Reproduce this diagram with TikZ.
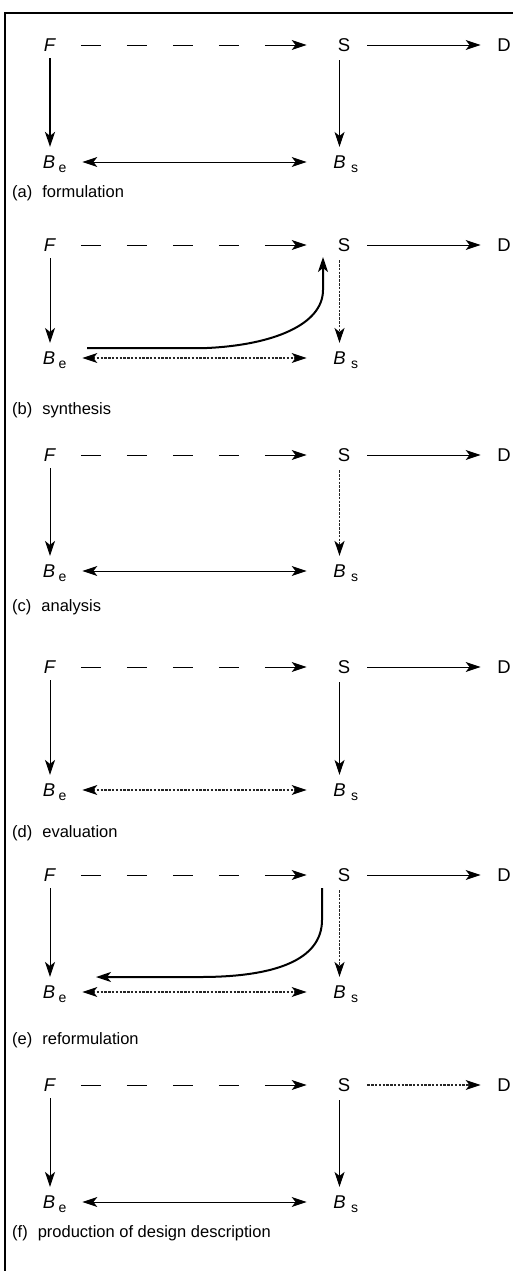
\documentclass[tikz,border=0pt]{standalone}
\usepackage{fontspec}
\setmainfont{Liberation Sans}
\usetikzlibrary{arrows.meta}
\tikzset{
  lbl/.style={inner sep=0pt, font=\fontsize{18.5}{18}\selectfont},
  caplbl/.style={anchor=west, inner sep=0pt, font=\fontsize{16.5}{18}\selectfont},
  myarw/.tip={Stealth[length=15pt,width=10pt,inset=4pt,color=black]},
  conn/.style={line width=0.9pt, -myarw},
  dconn/.style={line width=0.9pt, myarw-myarw},
  dashA/.style={shorten <=24.5pt, shorten >=31pt,
    dash pattern=on 20pt off 26pt on 20pt off 26pt on 20pt off 26pt on 20pt off 26pt on 90pt},
  sd/.style={shorten <=17pt, shorten >=16.5pt},
  fb/.style={shorten <=6.5pt, shorten >=8.5pt},
  sb/.style={shorten <=8.5pt, shorten >=8.5pt},
  bb/.style={shorten <=27pt, shorten >=26.5pt},
  shaded/.style={dash pattern=on 2.5pt off 1.3pt, draw=black!85, line width=1.1pt},
  active/.style={line width=2pt},
  frame/.style={line width=1.5pt},
}
\newcommand\subE[1]{\rlap{\smash{\hspace{3.5pt}\raisebox{-4.5pt}{\fontsize{14}{14}\selectfont #1}}}}
\begin{document}
\begin{tikzpicture}[x=1pt,y=-1pt]
\path[use as bounding box] (0,0) rectangle (513,1271);
\draw[frame] (5,1271) -- (5,13) -- (513,13);

\foreach \p/\T/\B/\L/\txt in {a/45/162/193/formulation, b/245/358/410/synthesis, c/455/571/607/analysis, d/667/790/833/evaluation, e/875/992/1040/reformulation, f/1085/1202/1233/production of design description}{
  \node[lbl] (F\p) at (50,\T) {\textit{F}};
  \node[lbl] (S\p) at (344,\T) {S};
  \node[lbl] (D\p) at (504,\T) {D};
  \node[lbl] (Be\p) at (49,\B) {\textit{B}\subE{e}};
  \node[lbl] (Bs\p) at (339.5,\B) {\textit{B}\subE{\hspace{2pt}s}};
  \node[caplbl] (cap\p) at (12,\L) {(\p)\hspace{10pt}\txt};
}

% (a) formulation
\draw[conn,dashA] (Fa) -- (Sa);
\draw[conn,sd] (Sa) -- (Da);
\draw[conn,fb,active] (Fa.south) -- (Fa.south |- Bea.north);
\draw[conn,sb] (Sa.south -| Bsa.north) -- (Bsa.north);
\draw[dconn,bb] (Bea) -- (Bsa);

% (b) synthesis
\draw[conn,dashA] (Fb) -- (Sb);
\draw[conn,sd] (Sb) -- (Db);
\draw[conn,fb] (Fb.south) -- (Fb.south |- Beb.north);
\draw[conn,sb,shaded] (Sb.south -| Bsb.north) -- (Bsb.north);
\draw[dconn,bb,shaded] (Beb) -- (Bsb);
\coordinate (b1) at (87,348);
\coordinate (b2) at (323,257);
\draw[conn,active] (b1) -- (207,348) .. controls (272,345) and (323,325) .. (323,290) -- (b2);

% (c) analysis
\draw[conn,dashA] (Fc) -- (Sc);
\draw[conn,sd] (Sc) -- (Dc);
\draw[conn,fb] (Fc.south) -- (Fc.south |- Bec.north);
\draw[conn,sb,shaded,line width=1.5pt] (Sc.south -| Bsc.north) -- (Bsc.north);
\draw[dconn,bb] (Bec) -- (Bsc);

% (d) evaluation
\draw[conn,dashA] (Fd) -- (Sd);
\draw[conn,sd] (Sd) -- (Dd);
\draw[conn,fb] (Fd.south) -- (Fd.south |- Bed.north);
\draw[conn,sb] (Sd.south -| Bsd.north) -- (Bsd.north);
\draw[dconn,bb,shaded] (Bed) -- (Bsd);

% (e) reformulation
\draw[conn,dashA] (Fe) -- (Se);
\draw[conn,sd] (Se) -- (De);
\draw[conn,fb] (Fe.south) -- (Fe.south |- Bee.north);
\draw[conn,sb,shaded] (Se.south -| Bse.north) -- (Bse.north);
\draw[dconn,bb,shaded] (Bee) -- (Bse);
\coordinate (e1) at (322,888);
\coordinate (e2) at (96,977);
\draw[conn,active] (e1) -- (322,920) .. controls (322,960) and (275,977) .. (200,977) -- (e2);

% (f) production of design description
\draw[conn,dashA] (Ff) -- (Sf);
\draw[conn,sd,shaded] (Sf) -- (Df);
\draw[conn,fb] (Ff.south) -- (Ff.south |- Bef.north);
\draw[conn,sb] (Sf.south -| Bsf.north) -- (Bsf.north);
\draw[dconn,bb] (Bef) -- (Bsf);
\end{tikzpicture}
\end{document}
